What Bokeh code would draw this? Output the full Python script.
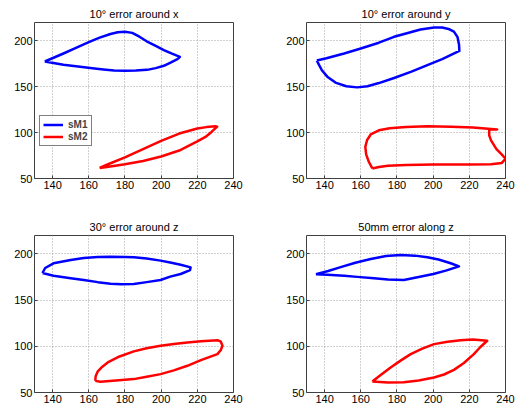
from bokeh.plotting import figure
from bokeh.layouts import column, row
from bokeh.models import FixedTicker, Range1d, Legend, LegendItem
from bokeh.embed import file_html
from bokeh.resources import INLINE

# ---------------- data ----------------
titles = ["10\u00b0 error around x", "10\u00b0 error around y",
          "30\u00b0 error around z", "50mm error along z"]
x_ticks = [140, 160, 180, 200, 220, 240]
y_ticks = [50, 100, 150, 200]
series_names = ["sM1", "sM2"]

# subplot 1: 10 deg error around x
a_sm1_x = [135.7, 146, 152, 160, 166, 172, 176, 180, 184, 188, 192, 197, 201.5, 206, 210.4,
           209, 205.2, 201.5, 197, 192.2, 186, 180.2, 174, 168.1, 162, 155.2, 146, 135.7]
a_sm1_y = [177.5, 186.2, 191.5, 198.5, 203.5, 207.5, 209.3, 209.8, 208.7, 204.5, 199.5, 194.5, 190, 186, 182.6,
           180, 176.4, 172.8, 170.3, 168.4, 167.6, 167.4, 167.8, 168.8, 170.1, 171.7, 173.9, 177.5]
a_sm2_x = [166, 170, 180, 190, 200, 210, 220, 225, 230, 231,
           228, 225, 220, 210, 200, 190, 180, 170, 166]
a_sm2_y = [61.5, 65, 73, 82, 91, 99, 104.5, 106, 107, 106.5,
           101, 96, 90.5, 80.5, 74, 69, 65.5, 62.5, 61.5]

# subplot 2: 10 deg error around y
b_sm1_x = [135.7, 141, 150.8, 160, 170, 178.4, 186, 193, 200.5, 205, 208.5, 211.5, 213.5, 214.3, 214.5,
           205, 196.8, 188, 178.4, 170, 163.7, 158, 152, 146, 141.5, 138.5, 137, 135.7]
b_sm1_y = [178.6, 181, 186.2, 191.7, 198, 204.4, 208.5, 212.4, 214.5, 214.5, 213, 210, 204, 196, 189,
           180, 173.5, 166.5, 159.5, 154, 150.5, 149.3, 150.5, 154.5, 161, 168, 173.5, 178.6]
b_sm2_x = [166.4, 164.5, 163, 162.5, 163.5, 165.5, 170, 176, 185, 196.8, 210, 222, 235.4,
           231, 231, 232, 235, 238, 240, 238, 232, 220, 200, 185, 175, 170, 166.4]
b_sm2_y = [61, 68, 76, 84.5, 92, 98, 102.5, 104.8, 106, 107, 106.5, 105.5, 103.5,
           103.4, 97, 91.5, 82, 76, 71.5, 67, 65.5, 65.3, 65.2, 64.8, 64, 62.5, 61]

# subplot 3: 30 deg error around z
c_sm1_x = [134.4, 135.9, 140.5, 150, 157.2, 165, 172, 180, 184.9, 192, 199.7, 205, 210.8, 216.3,
           216, 210.8, 205, 199.7, 192, 184.9, 178, 172, 165, 157.2, 150, 140.5, 134.4]
c_sm1_y = [179.4, 184.8, 189.9, 193.5, 195.6, 196.6, 197, 196.8, 196.4, 195, 192.8, 190.8, 188.4, 185.5,
           182.6, 178.3, 175.5, 171.8, 169.5, 167.5, 167.3, 167.8, 169.5, 171.8, 173.8, 176.5, 179.4]
c_sm2_x = [163.6, 163.8, 165, 167.5, 170.5, 177, 184.9, 192, 199.7, 207, 214.5, 222, 231.1, 233, 233.9,
           233, 231.1, 222, 214.5, 207, 199.7, 192, 184.9, 175, 166.4, 163.6]
c_sm2_y = [62.6, 67.5, 73, 78, 82.5, 89, 94.5, 98, 100.6, 102.6, 104.2, 105.5, 106.7, 105, 100.6,
           96, 91.6, 85, 78.9, 74, 69.9, 67, 64.5, 63, 61.6, 62.6]

# subplot 4: 50 mm error along z
d_sm1_x = [135.2, 142, 148.9, 157, 165.5, 174, 182, 190, 196.8, 203, 209.7, 214.3,
           207, 200.1, 192, 183.8, 175, 167.3, 158, 150.8, 141.6, 135.2]
d_sm1_y = [178.1, 181.5, 185.7, 190.5, 194.6, 197.8, 199, 198.2, 196.5, 194, 189.9, 186.6,
           182, 178.3, 175, 171.8, 172.3, 173.6, 175.2, 176.5, 177.6, 178.1]
d_sm2_x = [166.4, 171, 176.5, 182, 187.6, 194, 200.5, 208, 215.2, 222, 229.9,
           226, 222.5, 217, 211.5, 206, 200.5, 192, 183.8, 175, 166.4]
d_sm2_y = [61.9, 69, 77, 84.5, 91.6, 97.5, 102.4, 105, 106.7, 107.3, 106,
           99, 91.6, 82, 74.5, 69.5, 66.3, 63, 61, 60.8, 61.9]

panels = [
    (a_sm1_x, a_sm1_y, a_sm2_x, a_sm2_y),
    (b_sm1_x, b_sm1_y, b_sm2_x, b_sm2_y),
    (c_sm1_x, c_sm1_y, c_sm2_x, c_sm2_y),
    (d_sm1_x, d_sm1_y, d_sm2_x, d_sm2_y),
]

FONT = "Liberation Sans"
# (width, height, left, right, top, bottom)
geoms = [
    (270, 207, 34, 37, 22, 29),
    (255, 207, 36, 20, 22, 29),
    (270, 205, 34, 37, 28, 20),
    (255, 205, 36, 20, 28, 20),
]

figs = []
for i, (data, g) in enumerate(zip(panels, geoms)):
    w, h, bl, br, bt, bb = g
    p = figure(width=w, height=h, output_backend="svg", toolbar_location=None,
               x_range=Range1d(130, 240), y_range=Range1d(50, 220),
               min_border_left=bl, min_border_right=br,
               min_border_top=bt, min_border_bottom=bb)
    p.title.text = titles[i]
    p.title.align = "center"
    p.title.text_font = FONT
    p.title.text_font_size = "11px"
    p.title.text_font_style = "normal"
    p.title.text_color = "black"
    p.title.standoff = 5
    p.title.offset = 0
    p.outline_line_color = "#404040"
    p.outline_line_width = 1
    p.background_fill_color = "white"
    p.border_fill_color = "white"
    for ax in (p.xaxis[0], p.yaxis[0]):
        ax.axis_line_color = None
        ax.major_tick_in = 3
        ax.major_tick_out = 0
        ax.minor_tick_line_color = None
        ax.major_tick_line_color = "#404040"
        ax.major_label_text_font = FONT
        ax.major_label_text_font_size = "11px"
        ax.major_label_text_color = "black"
        ax.major_label_standoff = 2
    p.xaxis[0].ticker = FixedTicker(ticks=x_ticks)
    p.yaxis[0].ticker = FixedTicker(ticks=y_ticks)
    for gr in (p.xgrid[0], p.ygrid[0]):
        gr.grid_line_color = "#a0a0a0"
        gr.grid_line_dash = "1 2"
        gr.grid_line_width = 1
    p.xgrid[0].ticker = FixedTicker(ticks=x_ticks)
    p.ygrid[0].ticker = FixedTicker(ticks=y_ticks)

    x1, y1, x2, y2 = data
    r1 = p.line(x1, y1, line_color="#0000ff", line_width=2.5, line_join="round")
    r2 = p.line(x2, y2, line_color="#ff0000", line_width=2.5, line_join="round")

    if i == 0:
        leg = Legend(items=[LegendItem(label=series_names[0], renderers=[r1]),
                            LegendItem(label=series_names[1], renderers=[r2])],
                     location=(5, 32), margin=0, padding=3, spacing=1,
                     glyph_width=20, glyph_height=9, label_height=9,
                     label_standoff=5,
                     label_text_font=FONT, label_text_font_size="10px",
                     label_text_font_style="bold",
                     border_line_color="black", border_line_width=1,
                     background_fill_alpha=1)
        p.add_layout(leg, "center")
    figs.append(p)

layout = column(row(figs[0], figs[1]), row(figs[2], figs[3]))
open("out.html", "w").write(file_html(layout, INLINE))
